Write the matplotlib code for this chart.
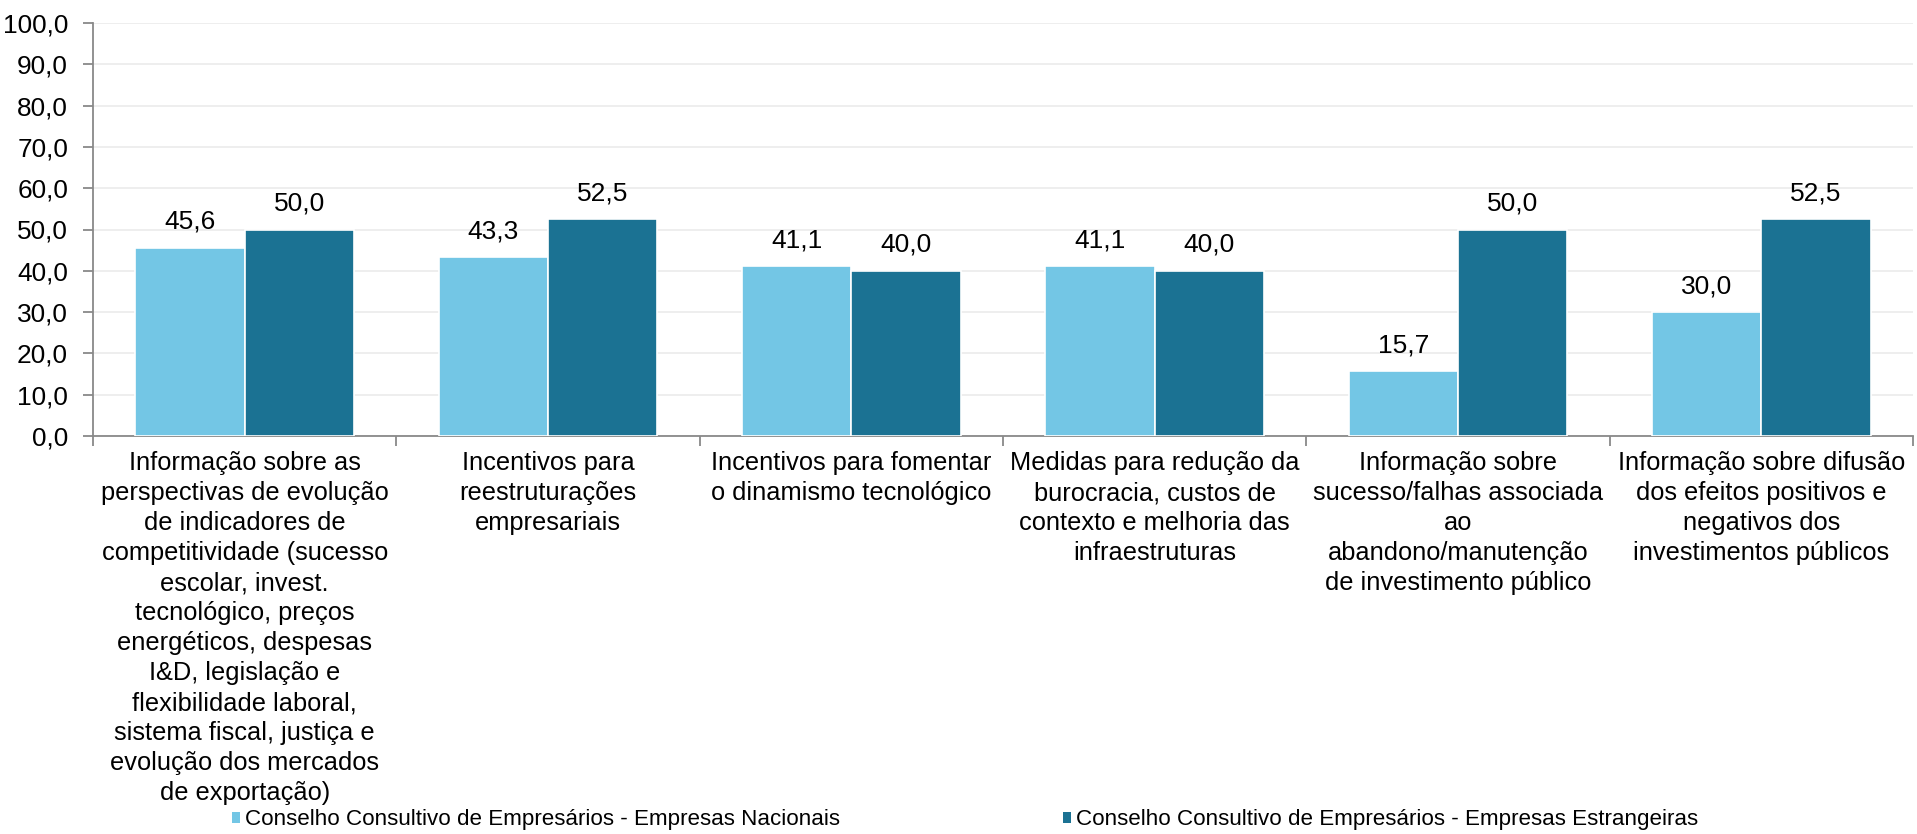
import matplotlib
matplotlib.use("Agg")
import matplotlib.pyplot as plt
from matplotlib import font_manager
from matplotlib.patches import Patch
import numpy as np

categories = [
    "Informação sobre as\nperspectivas de evolução\nde indicadores de\ncompetitividade (sucesso\nescolar, invest.\ntecnológico, preços\nenergéticos, despesas\nI&D, legislação e\nflexibilidade laboral,\nsistema fiscal, justiça e\nevolução dos mercados\nde exportação)",
    "Incentivos para\nreestruturações\nempresariais",
    "Incentivos para fomentar\no dinamismo tecnológico",
    "Medidas para redução da\nburocracia, custos de\ncontexto e melhoria das\ninfraestruturas",
    "Informação sobre\nsucesso/falhas associada\nao\nabandono/manutenção\nde investimento público",
    "Informação sobre difusão\ndos efeitos positivos e\nnegativos dos\ninvestimentos públicos",
]
series_names = [
    "Conselho Consultivo de Empresários - Empresas Nacionais",
    "Conselho Consultivo de Empresários - Empresas Estrangeiras",
]
nacionais = [45.6, 43.3, 41.1, 41.1, 15.7, 30.0]
estrangeiras = [50.0, 52.5, 40.0, 40.0, 50.0, 52.5]
y_ticks = [0, 10, 20, 30, 40, 50, 60, 70, 80, 90, 100]

colors = ["#73C6E5", "#1B7293"]

names = {f.name for f in font_manager.fontManager.ttflist}
base_font = "Liberation Sans" if "Liberation Sans" in names else "DejaVu Sans"
plt.rcParams["font.family"] = [base_font, "DejaVu Sans"]

def fmt(v):
    return f"{v:.1f}".replace(".", ",")

fig = plt.figure(figsize=(19.17, 8.34), dpi=100)
ax = fig.add_axes([93 / 1917, 1 - 436 / 834, (1913 - 93) / 1917, (436 - 23) / 834])

x = np.arange(len(categories))
w = 0.36
b1 = ax.bar(x - w / 2, nacionais, w, color=colors[0], edgecolor="white", linewidth=1.2, zorder=3)
b2 = ax.bar(x + w / 2, estrangeiras, w, color=colors[1], edgecolor="white", linewidth=1.2, zorder=3)

for bars, vals in ((b1, nacionais), (b2, estrangeiras)):
    for rect, v in zip(bars, vals):
        ax.annotate(fmt(v), (rect.get_x() + rect.get_width() / 2, v), xytext=(0, 10),
                    textcoords="offset points", ha="center", va="bottom", fontsize=19, color="black")

ax.set_ylim(0, 100)
ax.set_yticks(y_ticks)
ax.set_yticklabels([fmt(v) for v in y_ticks], fontsize=18.9)
ax.set_xlim(-0.5, len(categories) - 0.5)
ax.set_xticks(np.arange(len(categories) + 1) - 0.5)
ax.set_xticklabels([])
ax.set_xticks(x, minor=True)
ax.set_xticklabels(categories, minor=True, fontsize=18.3, linespacing=1.315)
ax.tick_params(axis="x", which="minor", length=0, pad=11)
ax.tick_params(axis="x", which="major", length=7, color="#898989", width=1.3)
ax.tick_params(axis="y", length=7, color="#898989", width=1.3, pad=11)

ax.grid(axis="y", color="#EDEDED", linewidth=1.3, zorder=0)
for s in ["top", "right"]:
    ax.spines[s].set_visible(False)
for s in ["left", "bottom"]:
    ax.spines[s].set_color("#898989")
    ax.spines[s].set_linewidth(1.3)

for i, (name, col, xpos) in enumerate(zip(series_names, colors, [232 / 1917, 1063 / 1917])):
    fig.legend(handles=[Patch(facecolor=col, edgecolor="none")], labels=[name],
               loc="center left", bbox_to_anchor=(xpos, 1 - 820 / 834), frameon=False,
               handlelength=0.36, handleheight=0.36, handletextpad=0.2, borderpad=0,
               borderaxespad=0, prop={"size": 16.1})

fig.savefig("out.png", dpi=100)
